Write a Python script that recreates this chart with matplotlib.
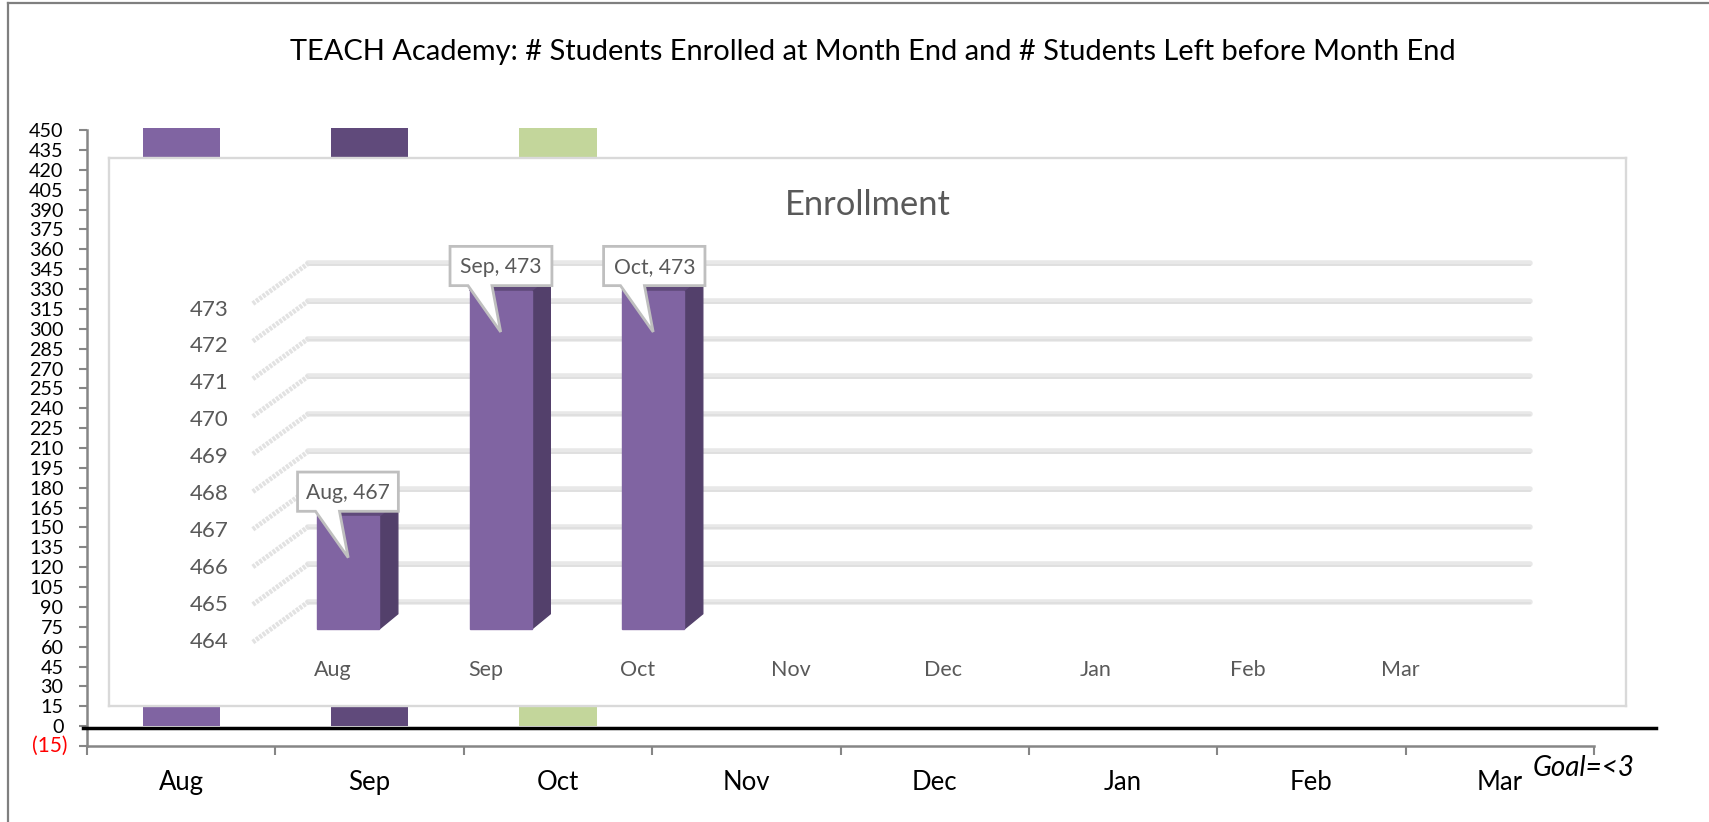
import matplotlib
matplotlib.use("Agg")
import matplotlib.pyplot as plt
from matplotlib.lines import Line2D
from matplotlib.patches import Polygon, Rectangle
import numpy as np

plt.rcParams["font.family"] = ["Lato", "DejaVu Sans"]

months = ["Aug", "Sep", "Oct", "Nov", "Dec", "Jan", "Feb", "Mar"]
enrolled = [467, 473, 473]
enrolled_months = ["Aug", "Sep", "Oct"]
bar_colors = ["#8064A2", "#604A7B", "#C3D69B"]
outer_ticks = list(range(-15, 465, 15))
inner_ticks = list(range(464, 474))

W, H = 1709, 822
fig = plt.figure(figsize=(W / 100, H / 100), dpi=100)


def axes_px(x0, y0, x1, y1):
    # pixel box (y down) to figure fractions
    return fig.add_axes([x0 / W, 1 - y1 / H, (x1 - x0) / W, (y1 - y0) / H])


# ---- outer frame (only left and top edges show) ----
frame_x, frame_y = 8 / W, 1 - 3.5 / H
fig.add_artist(Line2D([frame_x, frame_x], [0, frame_y], color="#7f7f7f", lw=1.6))
fig.add_artist(Line2D([frame_x, 1], [frame_y, frame_y], color="#7f7f7f", lw=1.6))

fig.text(873 / W, 1 - 52 / H,
         "TEACH Academy: # Students Enrolled at Month End and # Students Left before Month End",
         ha="center", va="center", fontsize=20.9, color="black")

# ---- outer chart ----
ax = axes_px(87, 128, 1594, 746)
ax.set_xlim(-0.5, 7.5)
ax.set_ylim(-15, 451.6)
ax.patch.set_alpha(0)
ax.bar(np.arange(len(enrolled)), enrolled, width=0.41, color=bar_colors, zorder=1)
ax.plot([-0.523, 7.83], [-1.5, -1.5], color="black", linewidth=2.5, zorder=3, clip_on=False)

for side in ["top", "right"]:
    ax.spines[side].set_visible(False)
for side in ["left", "bottom"]:
    ax.spines[side].set_color("#868686")
    ax.spines[side].set_linewidth(1.8)
ax.spines["left"].set_bounds(-15, 450)

ax.set_yticks(outer_ticks)
ax.set_yticklabels(["" if t < 0 else str(t) for t in outer_ticks], fontsize=14.2)
ax.tick_params(axis="y", length=5.5, width=1.5, color="#868686", pad=11.5)
ax.annotate(f"({-outer_ticks[0]})", xy=(0, outer_ticks[0]), xycoords=ax.get_yaxis_transform(),
            xytext=(-13.7, 0), textcoords="offset points", ha="right", va="center",
            fontsize=15, color="red")
ax.set_xticks(np.arange(-0.5, 8, 1))
ax.set_xticklabels([])
ax.tick_params(axis="x", length=6.5, width=1.5, color="#868686", direction="out")
for i, m in enumerate(months):
    ax.annotate(m, xy=(i, 0), xycoords=ax.get_xaxis_transform(), xytext=(0, -26.5),
                textcoords="offset points", ha="center", va="center", fontsize=18.5)
ax.text(0.9934, -0.0348, "Goal=<3", transform=ax.transAxes, ha="center", va="center",
        fontsize=20, style="italic")

# ---- inner panel (Enrollment) ----
sx, sy = 1709 / 1568, 822 / 754
px0, py0, px1, py1 = 109, 158, 1626, 706
cat_px = 139.9 * sx
val_px = 34.5 * sy
x_at0 = 319.5 * sx
y_at464 = 577 * sy
inner = axes_px(px0, py0, px1, py1)
inner.set_xlim((px0 - x_at0) / cat_px, (px1 - x_at0) / cat_px)
inner.set_ylim(464 + (y_at464 - py1) / val_px, 464 + (y_at464 - py0) / val_px)
inner.set_facecolor("white")
inner.set_zorder(5)
inner.set_xticks([])
inner.set_yticks([])
for s in inner.spines.values():
    s.set_color("#d9d9d9")
    s.set_linewidth(1.7)


def dx(p):
    return p * sx / cat_px


def dy(p):
    return p * sy / val_px


inner.text(0.5, 1 - (205 - py0) / (py1 - py0), "Enrollment", transform=inner.transAxes,
           ha="center", va="center", fontsize=24.8, color="#595959")

# back wall lines and slanted side wall
x_left, x_right, x_side = dx(283 - 319.5), dx(1404 - 319.5), dx(232 - 319.5)
for v in inner_ticks:
    yb = v + dy(25)
    inner.plot([x_left, x_right], [yb, yb], color="#e8e8e8", lw=4, zorder=1, solid_capstyle="round")
    inner.plot([x_left, x_right], [yb - dy(1.5), yb - dy(1.5)], color="#dedede", lw=1.2, zorder=1)
    inner.plot([x_side, x_left], [yb - dy(37), yb], color="#e2e2e2", lw=3.5,
               ls=(0, (0.6, 0.25)), zorder=1)
    inner.text(dx(210 - 319.5), 464 + (v - 464) * 33.9 / 34.5 - dy(12), str(v), ha="right",
               va="center", fontsize=16, color="#595959")

# month labels under the columns
for i, m in enumerate(months):
    inner.text(i - dx(14), 464 - dy(38), m, ha="center", va="center", fontsize=15.5, color="#595959")

# 3-D looking columns
bw = dx(57)
ox, oy = dx(17), dy(14)
for i, v in enumerate(enrolled):
    l, r = i - bw / 2, i + bw / 2
    inner.add_patch(Polygon([(r, 464), (r + ox, 464 + oy), (r + ox, v + oy), (r, v)], color="#53406B", zorder=2))
    inner.add_patch(Polygon([(l, v), (r, v), (r + ox, v + oy), (l + ox, v + oy)], color="#604A7B", zorder=2))
    inner.add_patch(Rectangle((l, 464), bw, v - 464, color="#8064A2", zorder=3))

# callouts
box_left = [46.5, 46.5, 45.5]
box_right = [46, 47, 47.5]
for i, v in enumerate(enrolled):
    bl, br = dx(box_left[i]), dx(box_right[i])
    bot, top = v + dy(4.5), v + dy(40.5)
    tail_l, tail_r = i - dx(30), i - dx(8)
    tip = (i, v - dy(38))
    inner.add_patch(Polygon([(i - bl, top), (i + br, top), (i + br, bot), (tail_r, bot), tip, (tail_l, bot), (i - bl, bot)],
                            facecolor="white", edgecolor="#bfbfbf", linewidth=2, zorder=4, joinstyle="miter"))
    inner.text(i + (br - bl) / 2, (top + bot) / 2 - dy(1), f"{enrolled_months[i]}, {v}", ha="center", va="center",
               fontsize=15.2, color="#595959", zorder=5)

fig.savefig("out.png", dpi=100)
